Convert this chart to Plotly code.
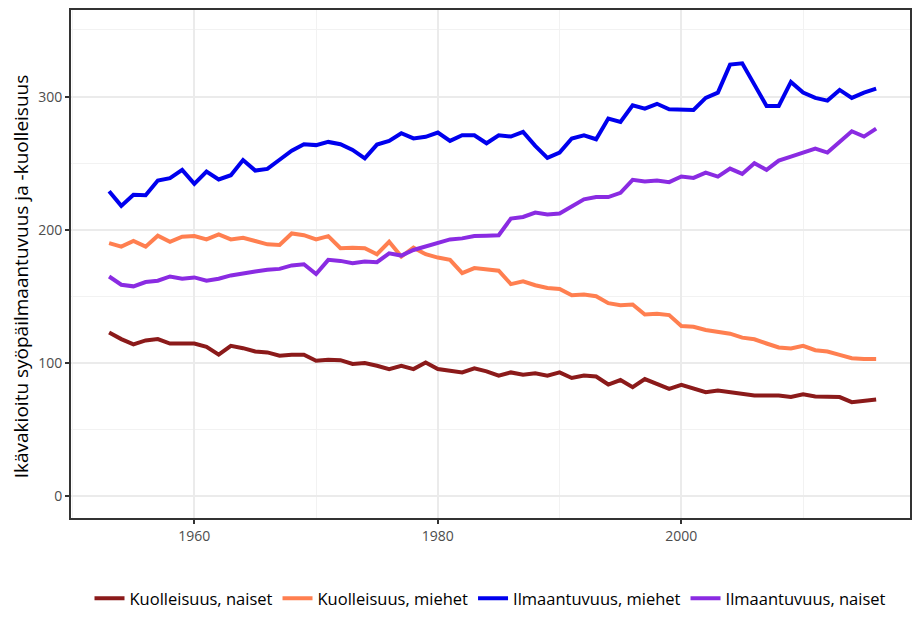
import plotly.graph_objects as go

years = list(range(1953, 2017))

kuolleisuus_naiset = [
    123, 118, 114, 117, 118, 114.7, 114.7, 114.7, 112.2, 106.3,
    112.9, 111.2, 108.7, 108, 105.5, 106.3, 106.3, 101.8, 102.5, 102.2,
    99.3, 100, 98, 95.5, 98, 95.5, 100.5, 95.5, 94.3, 93,
    96, 93.8, 90.6, 93, 91.3, 92.3, 90.6, 93, 88.8, 90.6,
    89.9, 83.9, 87.3, 81.9, 88, 84.4, 80.7, 83.6, 80.7, 78.2,
    79.4, 78.2, 77.4, 75.7, 75.7, 75.7, 74.5, 76.5, 75, 75,
    74.5, 70.7, 71.5, 72.7,
]

kuolleisuus_miehet = [
    190, 187.4, 191.6, 187.4, 195.6, 191, 194.9, 195.3, 192.8, 196.6,
    192.8, 194, 191.6, 189.1, 188.6, 197.3, 196, 192.8, 195.3, 186.2,
    186.6, 186.2, 181.7, 191, 180, 186.6, 181.7, 179.2, 177.5, 167.5,
    171.3, 170, 169.3, 159.3, 161.3, 158.4, 156.4, 155.6, 150.9, 151.4,
    150.2, 145, 143.5, 144, 136.5, 137, 136, 127.8, 127.3, 124.8,
    123.6, 122.1, 119.1, 117.9, 114.7, 111.7, 110.9, 112.9, 109.7, 108.7,
    106.2, 103.7, 103, 103,
]

ilmaantuvuus_miehet = [
    229, 218, 226.4, 226, 237, 238.8, 245, 234.5, 243.7, 237.8,
    241, 252.4, 244.5, 245.7, 252.6, 259.4, 264.3, 263.6, 266, 264.3,
    260, 253.7, 264, 266.8, 272.5, 268.6, 269.8, 273, 266.8, 271,
    271, 265, 271, 270, 273.5, 263, 254, 258, 268.6, 271,
    268, 283.5, 281, 293.4, 291, 294.6, 290.5, 290, 290, 299,
    303, 324, 325, 309, 293, 293, 311, 303, 299, 297,
    305, 299, 303, 306,
]

ilmaantuvuus_naiset = [
    165, 158.8, 157.6, 160.8, 161.8, 165, 163.3, 164.3, 161.8, 163.3,
    165.8, 167.5, 168.8, 170, 170.7, 173.3, 174.2, 166.8, 177.5, 176.7,
    175, 176.2, 175.7, 182.4, 180.7, 184.9, 187.4, 189.9, 192.8, 193.6,
    195.3, 195.6, 196, 208.5, 209.7, 213, 211.5, 212.2, 217.2, 222.9,
    224.6, 224.6, 227.8, 237.5, 236.3, 237, 235.8, 240, 239, 243,
    240, 246, 242, 250, 245, 252, 255, 258, 261, 258,
    266, 274, 270, 276,
]

series = [
    ("Kuolleisuus, naiset", kuolleisuus_naiset, "#8B1A1A"),
    ("Kuolleisuus, miehet", kuolleisuus_miehet, "#FF7F50"),
    ("Ilmaantuvuus, miehet", ilmaantuvuus_miehet, "#0000EE"),
    ("Ilmaantuvuus, naiset", ilmaantuvuus_naiset, "#8A2BE2"),
]

x_ticks = [1960, 1980, 2000]
y_ticks = [0, 100, 200, 300]
y_title = "Ikävakioitu syöpäilmaantuvuus ja -kuolleisuus"

font_family = "Open Sans, Noto Sans, sans-serif"

fig = go.Figure()
for name, vals, color in series:
    fig.add_trace(go.Scatter(
        x=years, y=vals, mode="lines", name=name,
        line=dict(color=color, width=4),
    ))

# The page body adds an 8px margin; keep the figure inside the 920x626 window.
fig.update_layout(
    width=904, height=610,
    margin=dict(l=63, r=2, t=2, b=92),
    plot_bgcolor="white", paper_bgcolor="white",
    font=dict(family=font_family, size=14, color="#000000"),
    legend=dict(
        orientation="h", x=0.5, xanchor="center", y=-0.1585, yanchor="middle",
        font=dict(size=16.5, color="#000000"), tracegroupgap=0,
    ),
    showlegend=True,
)

fig.add_annotation(
    text=y_title, textangle=-90, showarrow=False,
    xref="paper", yref="paper", x=-0.0595, y=0.476,
    xanchor="center", yanchor="middle",
    font=dict(family=font_family, size=19, color="#000000"),
)

fig.update_xaxes(
    range=[1949.87, 2018.78], automargin=False,
    tickvals=x_ticks, ticktext=[str(v) for v in x_ticks],
    showgrid=True, gridcolor="#EBEBEB", gridwidth=2,
    minor=dict(tickvals=[1950, 1970, 1990, 2010], showgrid=True, gridcolor="#F2F2F2", gridwidth=1, ticks=""),
    showline=True, linecolor="#333333", linewidth=2, mirror=True,
    ticks="outside", ticklen=4, tickcolor="#333333", tickwidth=2,
    tickfont=dict(size=14, color="#4D4D4D"),
    zeroline=False,
)
fig.update_yaxes(
    range=[-16.26, 365.0], automargin=False,
    tickvals=y_ticks, ticktext=[str(v) for v in y_ticks],
    showgrid=True, gridcolor="#EBEBEB", gridwidth=2,
    minor=dict(tickvals=[50, 150, 250, 350], showgrid=True, gridcolor="#F2F2F2", gridwidth=1, ticks=""),
    showline=True, linecolor="#333333", linewidth=2, mirror=True,
    ticks="outside", ticklen=4, tickcolor="#333333", tickwidth=2,
    tickfont=dict(size=14, color="#4D4D4D"),
    zeroline=False,
)

fig.write_html("out.html")
